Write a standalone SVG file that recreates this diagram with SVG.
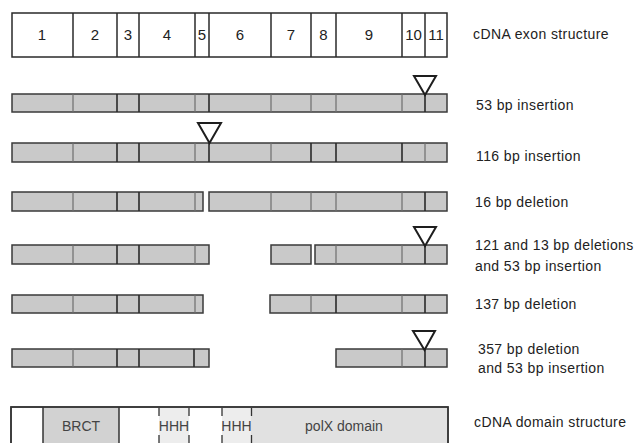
<svg xmlns="http://www.w3.org/2000/svg" width="637" height="443" viewBox="0 0 637 443">
<style>
.bar{fill:#c9c9c9;stroke:#3a3a3a;stroke-width:1.5}
.ex{fill:#fff;stroke:#2a2a2a;stroke-width:1.5}
.b1{stroke:#2a2a2a;stroke-width:1.6}
.b2{stroke:#6e6e6e;stroke-width:1.2}
.tri{fill:#fff;stroke:#1e1e1e;stroke-width:2;stroke-linejoin:miter}
.num{font-family:"Liberation Sans",Arial,sans-serif;font-size:15px;fill:#222;text-anchor:middle}
.lab{font-family:"Liberation Sans",Arial,sans-serif;font-size:14px;fill:#222;letter-spacing:0.4px}
.dom{font-family:"Liberation Sans",Arial,sans-serif;font-size:14px;fill:#444;text-anchor:middle}
.dash{stroke:#333;stroke-width:1.3;stroke-dasharray:8,19}
</style>
<rect width="637" height="443" fill="#fff"/>

<g id="exon-structure">
<rect class="ex" x="12" y="13" width="435" height="44"/>
<g stroke="#2a2a2a" stroke-width="1.5">
<line x1="73" y1="13" x2="73" y2="57"/><line x1="117" y1="13" x2="117" y2="57"/><line x1="139" y1="13" x2="139" y2="57"/><line x1="195" y1="13" x2="195" y2="57"/><line x1="209" y1="13" x2="209" y2="57"/><line x1="271" y1="13" x2="271" y2="57"/><line x1="311" y1="13" x2="311" y2="57"/><line x1="336" y1="13" x2="336" y2="57"/><line x1="402" y1="13" x2="402" y2="57"/><line x1="425" y1="13" x2="425" y2="57"/>
</g>
<text class="num" x="42" y="40">1</text><text class="num" x="95" y="40">2</text><text class="num" x="128" y="40">3</text><text class="num" x="167" y="40">4</text><text class="num" x="202" y="40">5</text><text class="num" x="240" y="40">6</text><text class="num" x="291" y="40">7</text><text class="num" x="323.5" y="40">8</text><text class="num" x="369" y="40">9</text><text class="num" x="413.5" y="40">10</text><text class="num" x="436" y="40">11</text>
<text class="lab" x="473" y="39">cDNA exon structure</text>
</g>

<g id="row-53bp-insertion">
<rect class="bar" x="12" y="94" width="435" height="18"/>
<line class="b2" x1="73" y1="94" x2="73" y2="112"/><line class="b1" x1="117" y1="94" x2="117" y2="112"/><line class="b1" x1="139" y1="94" x2="139" y2="112"/><line class="b2" x1="195" y1="94" x2="195" y2="112"/><line class="b1" x1="209" y1="94" x2="209" y2="112"/><line class="b2" x1="271" y1="94" x2="271" y2="112"/><line class="b2" x1="311" y1="94" x2="311" y2="112"/><line class="b2" x1="336" y1="94" x2="336" y2="112"/><line class="b2" x1="402" y1="94" x2="402" y2="112"/><line class="b1" x1="425" y1="94" x2="425" y2="112"/>
<polygon class="tri" points="414,76 436,76 425,95"/>
<text class="lab" x="476" y="110">53 bp insertion</text>
</g>

<g id="row-116bp-insertion">
<rect class="bar" x="12" y="143" width="435" height="19"/>
<line class="b2" x1="73" y1="143" x2="73" y2="162"/><line class="b1" x1="117" y1="143" x2="117" y2="162"/><line class="b1" x1="139" y1="143" x2="139" y2="162"/><line class="b2" x1="195" y1="143" x2="195" y2="162"/><line class="b1" x1="209" y1="143" x2="209" y2="162"/><line class="b2" x1="271" y1="143" x2="271" y2="162"/><line class="b1" x1="311" y1="143" x2="311" y2="162"/><line class="b1" x1="336" y1="143" x2="336" y2="162"/><line class="b1" x1="402" y1="143" x2="402" y2="162"/><line class="b2" x1="425" y1="143" x2="425" y2="162"/>
<polygon class="tri" points="198,123 221,123 209.5,143"/>
<text class="lab" x="476" y="161">116 bp insertion</text>
</g>

<g id="row-16bp-deletion">
<rect class="bar" x="12" y="192" width="191" height="19"/>
<line class="b2" x1="73" y1="192" x2="73" y2="211"/><line class="b1" x1="117" y1="192" x2="117" y2="211"/><line class="b1" x1="139" y1="192" x2="139" y2="211"/><line class="b2" x1="195" y1="192" x2="195" y2="211"/>
<rect class="bar" x="209" y="192" width="238" height="19"/>
<line class="b2" x1="271" y1="192" x2="271" y2="211"/><line class="b2" x1="311" y1="192" x2="311" y2="211"/><line class="b2" x1="336" y1="192" x2="336" y2="211"/><line class="b2" x1="402" y1="192" x2="402" y2="211"/><line class="b1" x1="425" y1="192" x2="425" y2="211"/>
<text class="lab" x="475" y="207">16 bp deletion</text>
</g>

<g id="row-121-13bp-deletions">
<rect class="bar" x="12" y="245" width="197" height="19"/>
<line class="b2" x1="73" y1="245" x2="73" y2="264"/><line class="b1" x1="117" y1="245" x2="117" y2="264"/><line class="b1" x1="139" y1="245" x2="139" y2="264"/><line class="b2" x1="195" y1="245" x2="195" y2="264"/>
<rect class="bar" x="271" y="245" width="40" height="19"/>
<rect class="bar" x="315" y="245" width="132" height="19"/>
<line class="b2" x1="336" y1="245" x2="336" y2="264"/><line class="b2" x1="402" y1="245" x2="402" y2="264"/><line class="b1" x1="425" y1="245" x2="425" y2="264"/>
<polygon class="tri" points="414,227 436,227 425,246"/>
<text class="lab" x="475" y="250">121 and 13 bp deletions</text>
<text class="lab" x="475" y="271">and 53 bp insertion</text>
</g>

<g id="row-137bp-deletion">
<rect class="bar" x="12" y="295" width="191" height="18"/>
<line class="b2" x1="73" y1="295" x2="73" y2="313"/><line class="b1" x1="117" y1="295" x2="117" y2="313"/><line class="b1" x1="139" y1="295" x2="139" y2="313"/><line class="b2" x1="195" y1="295" x2="195" y2="313"/>
<rect class="bar" x="270" y="295" width="177" height="18"/>
<line class="b2" x1="311" y1="295" x2="311" y2="313"/><line class="b1" x1="336" y1="295" x2="336" y2="313"/><line class="b2" x1="402" y1="295" x2="402" y2="313"/><line class="b1" x1="425" y1="295" x2="425" y2="313"/>
<text class="lab" x="475" y="309">137 bp deletion</text>
</g>

<g id="row-357bp-deletion">
<rect class="bar" x="12" y="349" width="197" height="18"/>
<line class="b2" x1="73" y1="349" x2="73" y2="367"/><line class="b1" x1="117" y1="349" x2="117" y2="367"/><line class="b1" x1="139" y1="349" x2="139" y2="367"/><line class="b1" x1="194" y1="349" x2="194" y2="367"/>
<rect class="bar" x="336" y="349" width="111" height="18"/>
<line class="b2" x1="402" y1="349" x2="402" y2="367"/><line class="b1" x1="425" y1="349" x2="425" y2="367"/>
<polygon class="tri" points="413,331 435,331 424.5,350"/>
<text class="lab" x="478" y="354">357 bp deletion</text>
<text class="lab" x="478" y="373">and 53 bp insertion</text>
</g>

<g id="domain-structure">
<rect x="11" y="407" width="437" height="40" fill="#fff" stroke="#333" stroke-width="1.5"/>
<rect x="43" y="408" width="76" height="40" fill="#d2d2d2"/>
<rect x="159" y="408" width="30" height="40" fill="#ededed"/>
<rect x="222" y="408" width="29" height="40" fill="#ededed"/>
<rect x="251" y="408" width="196" height="40" fill="#e1e1e1"/>
<line x1="43" y1="407" x2="43" y2="443" stroke="#333" stroke-width="1.5"/>
<line x1="119" y1="407" x2="119" y2="443" stroke="#333" stroke-width="1.5"/>
<line class="dash" x1="159" y1="408" x2="159" y2="443"/>
<line class="dash" x1="189" y1="408" x2="189" y2="443"/>
<line class="dash" x1="222" y1="408" x2="222" y2="443"/>
<line class="dash" x1="251.5" y1="408" x2="251.5" y2="443"/>
<rect x="11" y="407" width="437" height="40" fill="none" stroke="#333" stroke-width="1.5"/>
<text class="dom" x="81" y="431">BRCT</text>
<text class="dom" x="174" y="431">HHH</text>
<text class="dom" x="236.5" y="431">HHH</text>
<text class="dom" x="344" y="431">polX domain</text>
<text class="lab" x="474" y="427">cDNA domain structure</text>
</g>
</svg>
